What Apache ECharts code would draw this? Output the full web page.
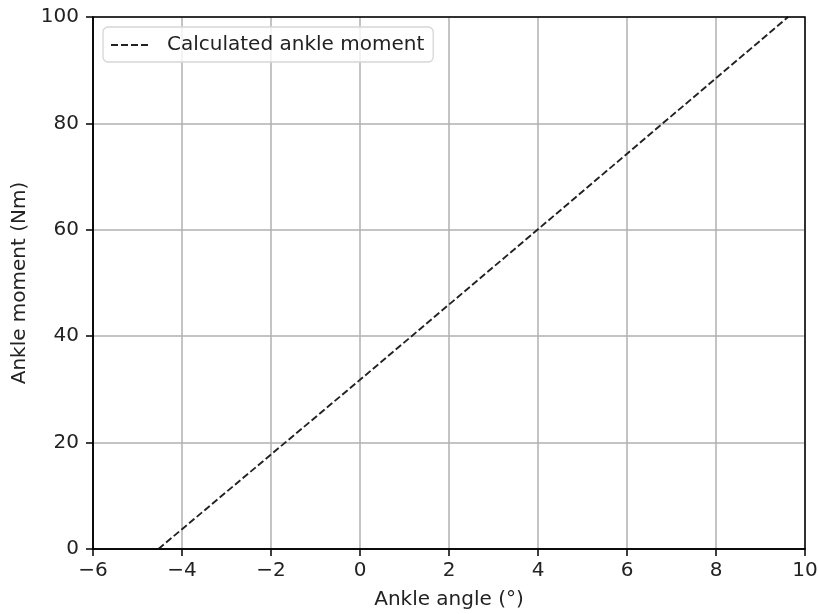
<!DOCTYPE html>
<html>
<head>
<meta charset="utf-8">
<script src="https://cdn.jsdelivr.net/npm/echarts@6/dist/echarts.min.js"></script>
<style>html,body{margin:0;padding:0;background:#fff}#c{width:818px;height:614px}</style>
</head>
<body>
<div id="c"></div>
<script>
var seriesName = 'Calculated ankle moment';
var angles = [-4.53, 0, 4, 9.62];
var moments = [0, 31.8, 60.1, 100];
var xTicks = [-6, 10, 2];
var yTicks = [0, 100, 20];

var FONT = 'DejaVu Sans';
var FS = 20;
var chart = echarts.init(document.getElementById('c'));
function fmt(v){ return String(v).replace('-', '\u2212'); }
chart.setOption({
  animation: false,
  textStyle: { fontFamily: FONT },
  grid: { left: 93, right: 13, top: 17, bottom: 65, containLabel: false, outerBoundsMode: 'none' },
  legend: {
    left: 103, top: 27,
    data: [{ name: seriesName }],
    itemWidth: 40, itemHeight: 14, itemGap: 10,
    padding: [8, 9, 7, 7],
    borderColor: '#d6d6d6', borderWidth: 1.3, borderRadius: 5,
    backgroundColor: 'rgba(255,255,255,0.8)',
    itemStyle: { opacity: 0 },
    textStyle: { fontFamily: FONT, fontSize: FS, color: '#222', padding: [0, 0, 0, 11] }
  },
  xAxis: {
    type: 'value', min: xTicks[0], max: xTicks[1], interval: xTicks[2],
    name: 'Ankle angle (°)', nameLocation: 'middle', nameGap: 41,
    nameTextStyle: { fontFamily: FONT, fontSize: FS, color: '#222' },
    axisLine: { show: true, onZero: false, lineStyle: { color: '#000', width: 1.5 } },
    axisTick: { show: true, length: 7, lineStyle: { color: '#000', width: 1.5 } },
    axisLabel: { fontFamily: FONT, fontSize: FS, color: '#222', margin: 12, formatter: fmt },
    splitLine: { show: true, lineStyle: { color: '#b0b0b0', width: 1.5 } }
  },
  yAxis: {
    type: 'value', min: yTicks[0], max: yTicks[1], interval: yTicks[2],
    name: 'Ankle moment (Nm)', nameLocation: 'middle', nameGap: 60,
    nameTextStyle: { fontFamily: FONT, fontSize: FS, color: '#222' },
    axisLine: { show: true, onZero: false, lineStyle: { color: '#000', width: 1.5 } },
    axisTick: { show: true, length: 7, lineStyle: { color: '#000', width: 1.5 } },
    axisLabel: { fontFamily: FONT, fontSize: FS, color: '#222', margin: 14 },
    splitLine: { show: true, lineStyle: { color: '#b0b0b0', width: 1.5 } }
  },
  series: [{
    name: seriesName, type: 'line',
    data: angles.map(function(a, i){ return [a, moments[i]]; }),
    symbol: 'none', showSymbol: false,
    lineStyle: { color: '#222', width: 1.9, type: [7, 3] },
    itemStyle: { color: '#222' }
  }],
  graphic: [{
    type: 'rect', silent: true, z: 100,
    shape: { x: 93, y: 17, width: 712, height: 532 },
    style: { fill: 'none', stroke: '#000', lineWidth: 1.5 }
  }]
});
</script>
</body>
</html>
